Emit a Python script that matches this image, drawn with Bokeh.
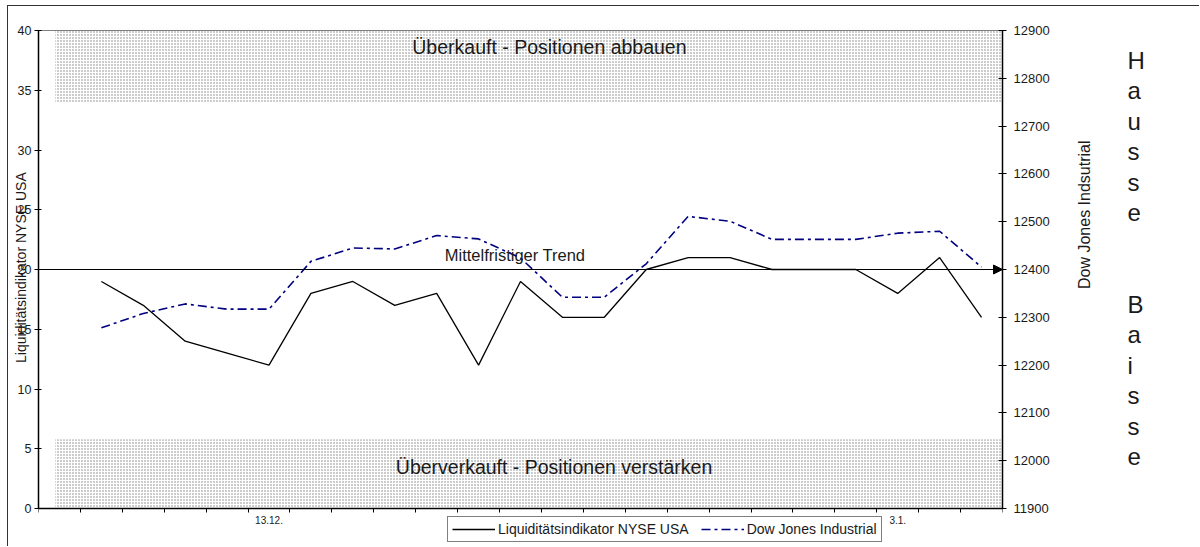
import math
from bokeh.plotting import figure
from bokeh.models import (Range1d, LinearAxis, FixedTicker, SingleIntervalTicker,
                          Label, Arrow, NormalHead, Legend, LegendItem, ColumnDataSource, Span)
from bokeh.embed import file_html
from bokeh.resources import INLINE

# ---------------- data ----------------
n_slots = 23                                  # category slots on the x axis
positions = list(range(1, 23))                # slots that carry a value
liquidity = [19, 17, 14, 13, 12, 18, 19, 17, 18, 12, 19, 16, 16, 20, 21, 21, 20, 20, 20, 18, 21, 16]
dow_jones = [12278, 12308, 12328, 12317, 12317, 12417, 12445, 12443, 12471, 12464, 12424,
             12342, 12342, 12412, 12511, 12501, 12463, 12463, 12463, 12476, 12480, 12405]
date_labels = {5: "13.12.", 20: "3.1."}
trend_level = 20
overbought = [34, 40]
oversold = [0, 5.8]
left_range = [0, 40]
right_range = [11900, 12900]

FONT = "Liberation Sans"
TXT = "#1a1a1a"
NB = "\u00a0"

# layout (pixels): plot area spans 478 px for the value ranges, plus room below for the legend
plot_px, below_px = 478, 39
pad_l = (left_range[1] - left_range[0]) * below_px / plot_px
pad_r = (right_range[1] - right_range[0]) * below_px / plot_px

p = figure(width=1192, height=541, output_backend="svg", toolbar_location=None,
           x_range=Range1d(0, n_slots), y_range=Range1d(left_range[0] - pad_l, left_range[1]),
           min_border_left=30, min_border_right=198, min_border_top=24, min_border_bottom=0,
           margin=(6, 0, 0, 8), styles={"box-shadow": "-1px -1px 0 0 #333"})
p.xgrid.visible = False
p.ygrid.visible = False
p.outline_line_color = None
p.background_fill_color = "white"
p.border_fill_color = "white"
p.add_layout(Span(location=left_range[1], dimension="width", line_color="black", line_width=1))

# shaded zones
zones = ColumnDataSource(dict(left=[0.4, 0.4], right=[n_slots, n_slots],
                              bottom=[overbought[0], oversold[0]], top=[overbought[1], oversold[1]]))
p.quad(left="left", right="right", bottom="bottom", top="top", source=zones,
       fill_color="white", line_color=None, hatch_pattern="dot", hatch_color="black",
       hatch_scale=3, hatch_weight=1, hatch_alpha=0.5)

# trend line with arrow
p.add_layout(Arrow(x_start=0, y_start=trend_level, x_end=n_slots, y_end=trend_level,
                   line_color="black", line_width=1,
                   end=NormalHead(size=9, fill_color="black", line_color="black")))

xs = [i + 0.5 for i in positions]
r_liq = p.line(xs, liquidity, line_color="black", line_width=1.3)

p.extra_y_ranges = {"dj": Range1d(right_range[0] - pad_r, right_range[1])}
r_dj = p.line(xs, dow_jones, y_range_name="dj", line_color="#000080", line_width=1.6,
              line_dash="9 4 3 4")

# axes
xa = p.xaxis[0]
xa.fixed_location = left_range[0]
xa.ticker = FixedTicker(ticks=[k + 0.5 for k in date_labels], minor_ticks=list(range(n_slots + 1)))
xa.major_label_overrides = {k + 0.5: v for k, v in date_labels.items()}
xa.major_tick_out = 0
xa.major_tick_in = 0
xa.minor_tick_out = 4
xa.minor_tick_in = 0
xa.minor_tick_line_color = "black"
xa.axis_line_color = "black"
xa.axis_line_width = 1.5
xa.major_label_text_font = FONT
xa.major_label_text_font_size = "10px"
xa.major_label_text_color = TXT
xa.major_label_standoff = 3

ya = p.yaxis[0]
ya.bounds = tuple(left_range)
ya.ticker = SingleIntervalTicker(interval=5, num_minor_ticks=0)
ya.major_tick_out = 4
ya.major_tick_in = 3
ya.minor_tick_out = 0
ya.axis_line_color = "black"
ya.axis_line_width = 1.5
ya.major_label_text_font = FONT
ya.major_label_text_font_size = "12.5px"
ya.major_label_text_color = TXT
ya.major_label_standoff = 3
ya.axis_label = NB * 11 + "Liquiditätsindikator NYSE USA"
ya.axis_label_text_font = FONT
ya.axis_label_text_font_size = "14px"
ya.axis_label_text_font_style = "normal"
ya.axis_label_text_color = TXT
ya.axis_label_standoff = -14

ra = LinearAxis(y_range_name="dj", ticker=SingleIntervalTicker(interval=100, num_minor_ticks=0))
ra.bounds = tuple(right_range)
ra.major_tick_out = 4
ra.major_tick_in = 4
ra.minor_tick_out = 0
ra.axis_line_color = "black"
ra.axis_line_width = 1.5
ra.major_label_text_font = FONT
ra.major_label_text_font_size = "13px"
ra.major_label_text_color = TXT
ra.major_label_standoff = 7
ra.axis_label = "Dow Jones Indsutrial"
ra.axis_label_orientation = math.pi / 2
ra.axis_label_text_font = FONT
ra.axis_label_text_font_size = "16px"
ra.axis_label_text_font_style = "normal"
ra.axis_label_text_color = TXT
ra.axis_label_standoff = 32
p.add_layout(ra, "right")

# Hausse / Baisse as a label-only axis
hb = LinearAxis(y_range_name="dj", ticker=FixedTicker(ticks=[]))
hb.bounds = tuple(right_range)
hb.axis_line_color = None
hb.major_tick_line_color = None
hb.minor_tick_line_color = None
hb.major_label_text_font_size = "0px"
hb.axis_label = "\n".join(list("Hausse") + ["", ""] + list("Baisse") + [NB, NB])
hb.axis_label_orientation = "horizontal"
hb.axis_label_text_font = FONT
hb.axis_label_text_font_size = "24px"
hb.axis_label_text_font_style = "normal"
hb.axis_label_text_color = TXT
hb.axis_label_text_line_height = 1.13
hb.axis_label_text_align = "center"
hb.axis_label_standoff = 23
p.add_layout(hb, "right")

# texts inside the plot area
def lab(x, y, text, size):
    p.add_layout(Label(x=x, y=y, text=text, text_font=FONT, text_font_size=size,
                       text_align="center", text_baseline="middle", text_color=TXT))

lab(12.19, 38.6, "Überkauft - Positionen abbauen", "19.5px")
lab(12.30, 3.5, "Überverkauft - Positionen verstärken", "19.5px")
lab(11.37, 21.25, "Mittelfristiger Trend", "16.5px")

legend = Legend(items=[LegendItem(label="Liquiditätsindikator NYSE USA", renderers=[r_liq]),
                       LegendItem(label="Dow Jones Industrial", renderers=[r_dj])],
                orientation="horizontal", location=(409, 5),
                label_text_font=FONT, label_text_font_size="14px", label_text_color=TXT,
                glyph_width=43, glyph_height=16, label_height=16, label_standoff=3,
                spacing=12, padding=4, margin=0,
                border_line_color="black", border_line_width=1,
                background_fill_color="white", background_fill_alpha=1)
p.add_layout(legend, "center")

open("out.html", "w").write(file_html(p, INLINE))
